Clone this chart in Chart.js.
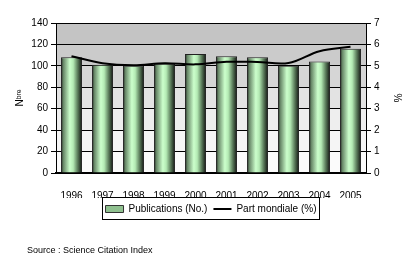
<!DOCTYPE html>
<html>
<head>
<meta charset="utf-8">
<script src="https://cdn.jsdelivr.net/npm/chart.js@4/dist/chart.umd.min.js"></script>
<style>
  html, body { margin: 0; padding: 0; background: #fff; }
  #wrap { position: relative; width: 409px; height: 259px; }
  #source { position: absolute; left: 27px; top: 245px; font: 9px "Liberation Sans", Arial, sans-serif; color: #000; }
</style>
</head>
<body>
<div id="wrap">
  <canvas id="chart" width="409" height="259"></canvas>
  <div id="source">Source : Science Citation Index</div>
</div>
<script>
const years = ['1996', '1997', '1998', '1999', '2000', '2001', '2002', '2003', '2004', '2005'];
const publications = [108, 101, 100, 102, 111, 109, 108, 100, 104, 116];
const partMondiale = [5.45, 5.12, 5.03, 5.12, 5.07, 5.19, 5.18, 5.13, 5.68, 5.89];
const leftTicks = [0, 20, 40, 60, 80, 100, 120, 140];
const rightTicks = [0, 1, 2, 3, 4, 5, 6, 7];

const FONT = { family: '"Liberation Sans", Arial, sans-serif', size: 10 };
const BAR_PCT = 0.68;

function barFill(context) {
    const chart = context.chart;
    const x = chart.scales.x;
    if (!chart.chartArea || !x || context.dataIndex === undefined) return '#99cc99';
    const center = x.getPixelForValue(context.dataIndex);
    const half = x.width / years.length * BAR_PCT / 2;
    const g = chart.ctx.createLinearGradient(center - half, 0, center + half, 0);
    g.addColorStop(0, '#222a22');
    g.addColorStop(0.12, '#6a8a6a');
    g.addColorStop(0.42, '#ccffcc');
    g.addColorStop(0.58, '#b4eab4');
    g.addColorStop(0.8, '#587858');
    g.addColorStop(1, '#101210');
    return g;
}

// banded grey background behind the plot
const bandColors = ['#fbfbfb', '#f5f5f5', '#eeeeee', '#e3e3e3', '#d6d6d6', '#cbcbcb', '#c4c4c4'];
const backgroundBands = {
    id: 'backgroundBands',
    beforeDraw(chart) {
        const { ctx, chartArea, scales } = chart;
        const y = scales.y;
        ctx.save();
        for (let i = 0; i < bandColors.length; i++) {
            const top = y.getPixelForValue(leftTicks[i + 1]);
            const bottom = y.getPixelForValue(leftTicks[i]);
            ctx.fillStyle = bandColors[i];
            ctx.fillRect(chartArea.left, top, chartArea.right - chartArea.left, bottom - top);
        }
        ctx.restore();
    }
};

const legendBorder = {
    id: 'legendBorder',
    afterDraw(chart) {
        const boxes = chart.legend && chart.legend.legendHitBoxes;
        if (!boxes || !boxes.length) return;
        let l = Infinity, r = -Infinity, t = Infinity, b = -Infinity;
        boxes.forEach(h => {
            l = Math.min(l, h.left); r = Math.max(r, h.left + h.width);
            t = Math.min(t, h.top); b = Math.max(b, h.top + h.height);
        });
        const ctx = chart.ctx;
        ctx.save();
        ctx.strokeStyle = '#000';
        ctx.lineWidth = 1;
        ctx.strokeRect(Math.round(l - 4) + 0.5, Math.round(t - 7) + 0.5, Math.round(r - l + 6), Math.round(b - t + 12));
        ctx.restore();
    }
};

new Chart(document.getElementById('chart').getContext('2d'), {
    data: {
        labels: years,
        datasets: [{
            type: 'bar',
            label: 'Publications (No.)',
            data: publications,
            yAxisID: 'y',
            backgroundColor: barFill,
            borderColor: '#222',
            borderWidth: 1,
            barPercentage: BAR_PCT,
            categoryPercentage: 1,
            order: 2
        }, {
            type: 'line',
            label: 'Part mondiale (%)',
            data: partMondiale,
            yAxisID: 'y1',
            borderColor: '#000',
            backgroundColor: '#000',
            borderWidth: 2,
            pointRadius: 0,
            tension: 0.35,
            order: 1
        }]
    },
    options: {
        responsive: false,
        animation: false,
        layout: { padding: { top: 23, left: 0, right: 0, bottom: 35 } },
        plugins: {
            tooltip: { enabled: false },
            legend: {
                position: 'bottom',
                fullSize: false,
                labels: {
                    font: FONT,
                    color: '#000',
                    usePointStyle: true,
                    pointStyleWidth: 18,
                    boxHeight: 7,
                    padding: 6,
                    generateLabels(chart) {
                        return [{
                            text: 'Publications (No.)', datasetIndex: 0,
                            fillStyle: '#8fc08f', strokeStyle: '#333', lineWidth: 1,
                            pointStyle: 'rect', fontColor: '#000'
                        }, {
                            text: 'Part mondiale (%)', datasetIndex: 1,
                            fillStyle: '#000', strokeStyle: '#000', lineWidth: 2,
                            pointStyle: 'line', fontColor: '#000'
                        }];
                    }
                }
            }
        },
        scales: {
            x: {
                grid: { display: false },
                border: { color: '#000', width: 2 },
                ticks: { font: FONT, color: '#000', padding: 9, maxRotation: 0 },
                afterFit(scale) { scale.height = 25; }
            },
            y: {
                position: 'left',
                min: 0, max: 140,
                afterBuildTicks(scale) { scale.ticks = leftTicks.map(v => ({ value: v })); },
                grid: { color: '#000', tickLength: 5, drawOnChartArea: true },
                border: { color: '#000', width: 1 },
                ticks: { font: FONT, color: '#000', padding: 3 },
                title: { display: true, text: 'Nᵇʳᵉ', font: FONT, color: '#000', padding: { top: 14, bottom: 0 } },
                afterFit(scale) { scale.width = 56; }
            },
            y1: {
                position: 'right',
                min: 0, max: 7,
                afterBuildTicks(scale) { scale.ticks = rightTicks.map(v => ({ value: v })); },
                grid: { color: '#000', tickLength: 5, drawOnChartArea: false },
                border: { color: '#000', width: 1 },
                ticks: { font: FONT, color: '#000', padding: 3 },
                title: { display: true, text: '%', font: FONT, color: '#000', padding: { top: 6, bottom: 0 } },
                afterFit(scale) { scale.width = 43; }
            }
        }
    },
    plugins: [backgroundBands, legendBorder]
});
</script>
</body>
</html>
